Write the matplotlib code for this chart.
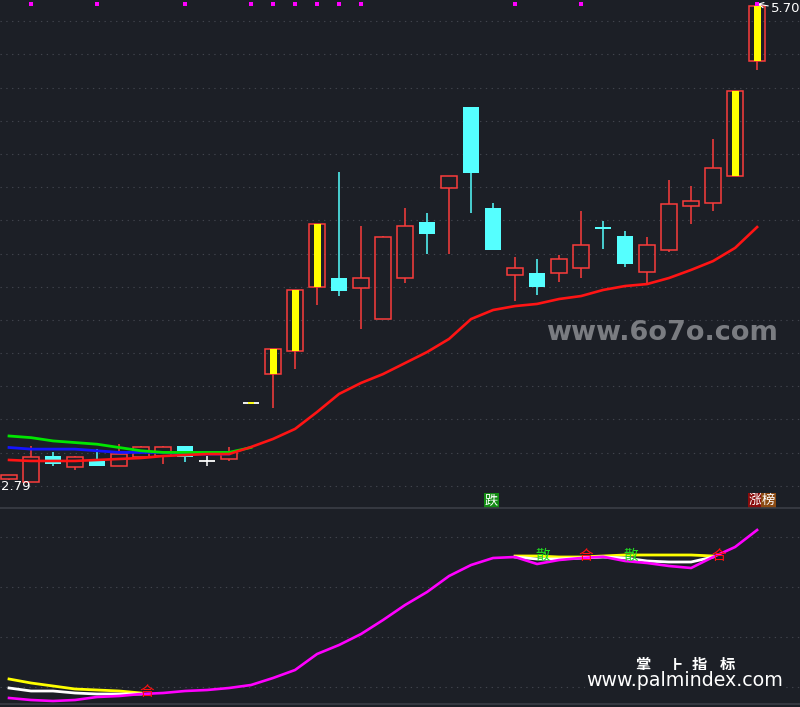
import matplotlib.pyplot as plt
from matplotlib.transforms import blended_transform_factory

BG = '#1c1f26'
GRID = '#41444d'
UP = '#fa3c3c'
DOWN = '#55ffff'
nan = float('nan')

# daily candles
opens  = [2.81, 2.79, 2.95, 2.88, 2.92, 2.89, 2.94, 2.95, 3.01, 2.92, 2.93, 3.27,
          3.45, 3.59, 3.98, 4.03, 3.97, 3.78, 4.03, 4.37, 4.58, 5.07, 4.46, 4.05,
          4.06, 4.06, 4.09, 4.34, 4.29, 4.07, 4.20, 4.47, 4.49, 4.65, 5.35]
highs  = [2.83, 3.01, 2.97, 2.95, 2.99, 3.02, 3.01, 3.01, 3.01, 2.95, 3.00, 3.27,
          3.60, 3.96, 4.36, 4.68, 4.35, 4.29, 4.46, 4.43, 4.65, 5.07, 4.49, 4.16,
          4.15, 4.17, 4.44, 4.38, 4.32, 4.28, 4.63, 4.59, 4.88, 5.17, 5.70]
lows   = [2.80, 2.79, 2.89, 2.86, 2.89, 2.89, 2.94, 2.90, 2.91, 2.89, 2.92, 3.27,
          3.24, 3.48, 3.87, 3.92, 3.72, 3.78, 4.00, 4.18, 4.18, 4.43, 4.20, 3.89,
          3.93, 4.01, 4.03, 4.21, 4.10, 4.00, 4.19, 4.36, 4.44, 4.65, 5.30]
closes = [2.83, 2.94, 2.90, 2.94, 2.89, 2.96, 3.00, 3.00, 2.94, 2.92, 2.97, 3.27,
          3.60, 3.96, 4.36, 3.95, 4.03, 4.28, 4.35, 4.30, 4.65, 4.67, 4.20, 4.09,
          3.98, 4.15, 4.23, 4.33, 4.12, 4.23, 4.48, 4.50, 4.70, 5.17, 5.69]
limit_up = [11, 12, 13, 14, 33, 34]
signal_days = [1, 4, 8, 11, 12, 13, 14, 15, 16, 23, 26, 34]

ma_red = [2.924, 2.918, 2.918, 2.918, 2.924, 2.930, 2.936, 2.948, 2.954, 2.960,
          2.960, 3.003, 3.052, 3.113, 3.216, 3.326, 3.393, 3.447, 3.514, 3.581,
          3.661, 3.782, 3.837, 3.861, 3.874, 3.904, 3.922, 3.959, 3.983, 3.995,
          4.032, 4.081, 4.135, 4.215, 4.342]
ma_green = [3.07, 3.06, 3.04, 3.03, 3.02, 3.00, 2.98, 2.97, 2.97, 2.97, 2.97, 3.00]
ma_blue = [3.00, 2.99, 2.99, 2.99, 2.98, 2.97, 2.97, 2.97, 2.96, 2.96, 2.96]

# lower indicator
ind_main = [15.4, 14.6, 14.2, 14.6, 15.8, 16.2, 17.0, 17.4, 18.2, 18.6, 19.4, 20.6,
            23.4, 26.6, 33.0, 36.6, 41.0, 46.6, 52.6, 57.8, 64.2, 68.6, 71.4, 71.8,
            69.0, 70.6, 71.4, 71.9, 70.2, 69.4, 68.2, 67.4, 71.8, 75.8, 82.6]
ind_white = [19.4, 18.2, 18.2, 17.4, 17.0, 17.0, 17.0,
             nan, nan, nan, nan, nan, nan, nan, nan, nan, nan, nan, nan, nan, nan, nan, nan,
             71.8, 71.0, 71.0, 71.4, 71.8, 71.4, 70.2, 69.8, 69.8, 71.8, nan, nan]
ind_yellow = [23.0, 21.4, 20.2, 19.0, 18.6, 18.2, 17.4,
              nan, nan, nan, nan, nan, nan, nan, nan, nan, nan, nan, nan, nan, nan, nan, nan,
              72.2, 72.2, 71.8, 71.8, 72.2, 72.6, 72.6, 72.6, 72.6, 72.2, nan, nan]
san_pos = [24.25, 28.25]
he_pos = [(6.27, 17.8), (26.2, 72.2), (32.25, 72.2)]

x = list(range(len(opens)))

fig = plt.figure(figsize=(8, 7.07), dpi=100, facecolor=BG)
ax1 = fig.add_axes([0, 199 / 707, 1, 508 / 707], facecolor=BG)
ax2 = fig.add_axes([0, 3 / 707, 1, 196 / 707], facecolor=BG, sharex=ax1)

ax1.set_xlim(-0.41, 35.95)
ax1.set_ylim(2.6316, 5.7244)
ax2.set_ylim(13.0, 91.4)

for ax in (ax1, ax2):
    ax.set_xticks([])
    ax.set_yticks([])
    for s in ax.spines.values():
        s.set_visible(False)
for side in ('top', 'bottom'):
    ax2.spines[side].set_visible(True)
    ax2.spines[side].set_color('#3b3e46')
    ax2.spines[side].set_linewidth(1.2)

# grid
for k in range(15):
    ax1.axhline(5.5947 - k * 0.20196, color=GRID, lw=0.8, ls=(0, (1.2, 4)), zorder=0)
for v in [20, 40, 60, 80]:
    ax2.axhline(v, color=GRID, lw=0.8, ls=(0, (1.2, 4)), zorder=0)

# candles
w = 0.74
for i in x:
    o, h, l, c = opens[i], highs[i], lows[i], closes[i]
    if c > o:
        ax1.bar(i, c - o, w, bottom=o, facecolor='none', edgecolor=UP, lw=1.1, zorder=3)
        ax1.vlines(i, c, h, color=UP, lw=1.1, zorder=3)
        ax1.vlines(i, l, o, color=UP, lw=1.1, zorder=3)
    elif c < o:
        ax1.vlines(i, l, h, color=DOWN, lw=1.1, zorder=3)
        ax1.bar(i, o - c, w, bottom=c, color=DOWN, zorder=3)
    else:
        ax1.vlines(i, l, h, color='white', lw=1.1, zorder=3)
        ax1.hlines(c, i - w / 2, i + w / 2, color='white', lw=1.3, zorder=3)
    if i in limit_up:
        if c > o:
            ax1.bar(i, c - o, 0.32, bottom=o, color='#ffff00', zorder=4)
        else:
            ax1.hlines(c, i - 0.14, i + 0.14, color='#ffff00', lw=1.3, zorder=4)

ax1.plot(x[:len(ma_blue)], ma_blue, color='#1414ff', lw=2.0, zorder=5)
ax1.plot(x[:len(ma_green)], ma_green, color='#00e600', lw=2.0, zorder=6)
ax1.plot(x, ma_red, color='#ff1414', lw=1.9, zorder=7)

trans1 = blended_transform_factory(ax1.transData, ax1.transAxes)
ax1.scatter(signal_days, [0.992] * len(signal_days), marker='s', s=7, linewidths=0,
            color='#ff00ff', transform=trans1, zorder=8, clip_on=False)

ax1.annotate('5.70', xy=(34, 5.70), xytext=(10, -3.5), textcoords='offset points',
             color='white', fontsize=9.5, ha='left', va='center',
             arrowprops=dict(arrowstyle='->', color='white', lw=0.8,
                             shrinkA=0, shrinkB=0))
ax1.text(-0.36, 2.765, '2.79', color='white', fontsize=9.5, ha='left', va='center')

cjk = ['Noto Sans CJK SC', 'DejaVu Sans']
ax1.text(21.93, 0.0148, '跌', transform=trans1, family=cjk, fontsize=9.5,
         color='white', ha='center', va='center',
         bbox=dict(boxstyle='square,pad=0.06', fc='#128a12', ec='none'))
ax1.text(33.93, 0.0148, '涨', transform=trans1, family=cjk, fontsize=9.5,
         color='white', ha='center', va='center',
         bbox=dict(boxstyle='square,pad=0.06', fc='#8a0c0c', ec='none'))
ax1.text(34.52, 0.0148, '榜', transform=trans1, family=cjk, fontsize=9.5,
         color='white', ha='center', va='center',
         bbox=dict(boxstyle='square,pad=0.06', fc='#8b4a12', ec='none'))

# lower panel
ax2.plot(x, ind_yellow, color='#ffff00', lw=2.0, zorder=3)
ax2.plot(x, ind_white, color='white', lw=2.0, zorder=4)
ax2.plot(x, ind_main, color='#ff00ff', lw=1.9, zorder=5)
for sx in san_pos:
    ax2.text(sx, 72.2, '散', family=cjk, fontsize=10.5, color='#22dd22',
             ha='center', va='center', zorder=6)
for hx, hy in he_pos:
    ax2.text(hx, hy, '合', family=cjk, fontsize=10.5, color='#ff1010',
             ha='center', va='center', zorder=6)

# watermarks
fig.text(662 / 800, 1 - 333 / 707, 'www.6o7o.com', color='#85878c', fontsize=19.5,
         fontweight='bold', ha='center', va='center', alpha=0.9)
for cx, ch in zip([643, 675, 699, 727], '掌上指标'):
    fig.text(cx / 800, 1 - 665 / 707, ch, family=cjk, fontsize=11, fontweight='bold',
             color='white', ha='center', va='center')
fig.text(685 / 800, 1 - 681 / 707, 'www.palmindex.com', color='white', fontsize=13.7,
         ha='center', va='center',
         bbox=dict(boxstyle='square,pad=0.1', fc=BG, ec='none'))

fig.savefig('out.png', dpi=100, facecolor=BG)
